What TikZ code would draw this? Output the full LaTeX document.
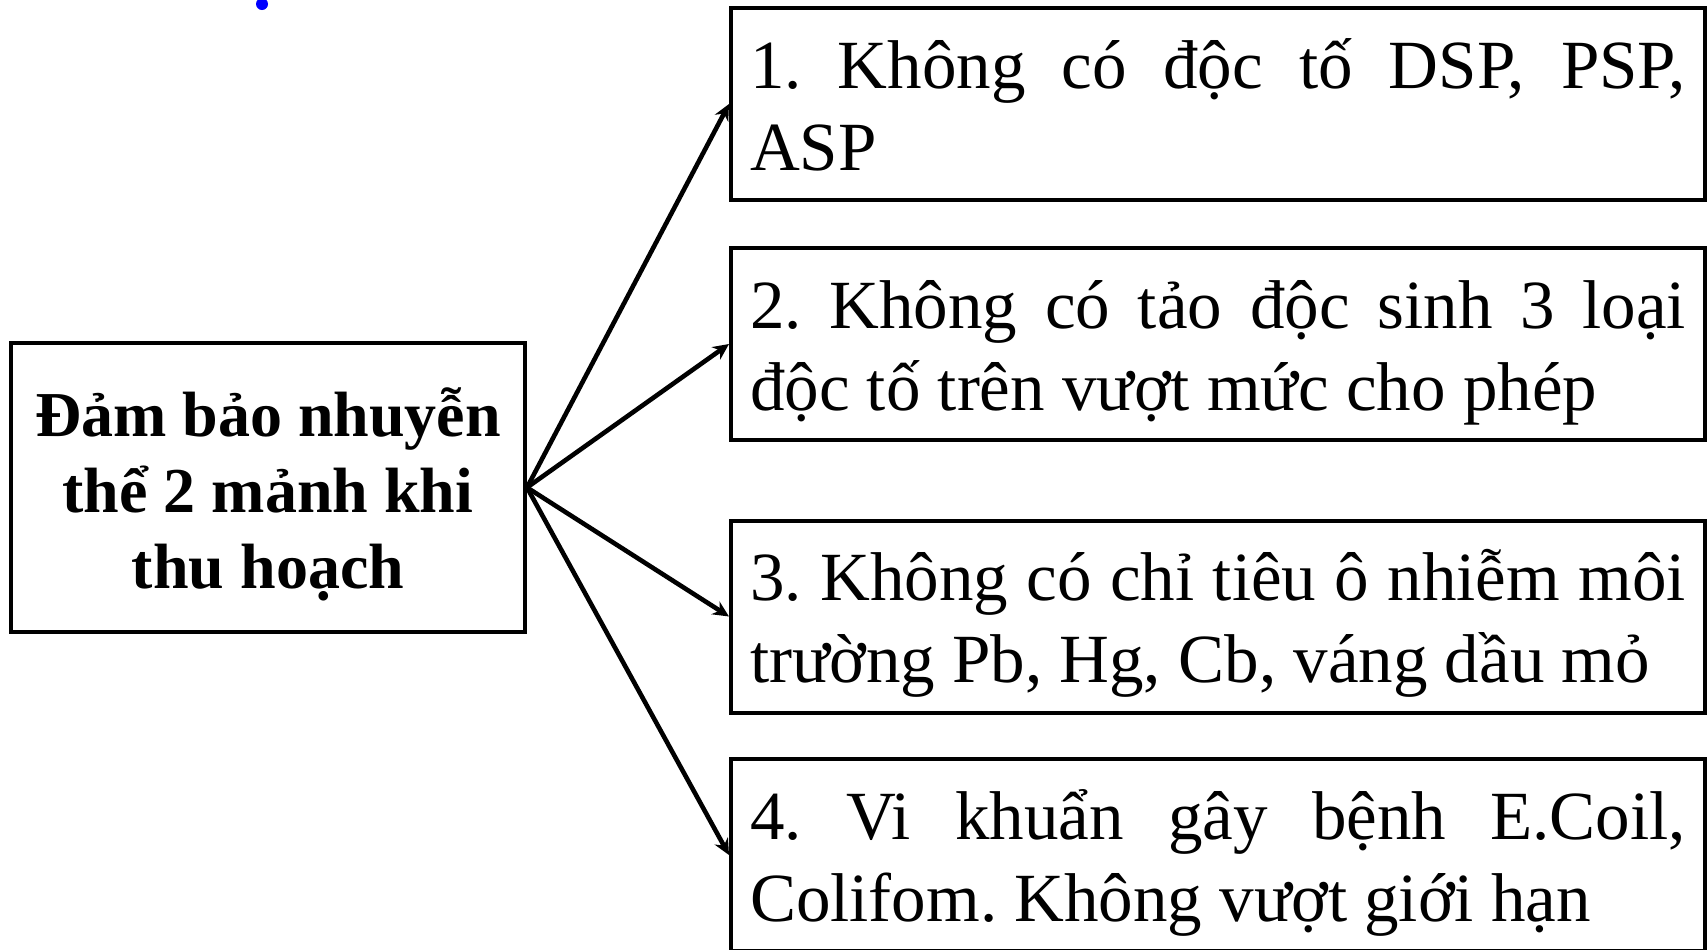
\documentclass[tikz,border=0pt]{standalone}
\usepackage{fontspec}
\setmainfont{Liberation Serif}
\usetikzlibrary{arrows.meta}
\frenchspacing
\newcommand{\tstrut}[1]{\rule{0pt}{#1}}
\newcommand{\bstrut}[1]{\rule[-#1]{0pt}{#1}}

\begin{document}
\begin{tikzpicture}[x=0.5pt, y=-0.5pt,
    goalbox/.style={draw, line width=2pt, minimum width=257pt, minimum height=144.5pt,
      align=center, font=\bfseries\fontsize{32}{38}\selectfont},
    itembox/.style={draw, line width=2pt, minimum height=96pt, text width=468pt,
      inner xsep=9.5pt, align=justify, font=\fontsize{34.5}{41}\selectfont},
    arr/.style={line width=2.3pt, -{Stealth[length=8pt, width=7.5pt]}}]
  \useasboundingbox (0,0) rectangle (1708,949);
  \fill[blue] (262,4) circle (3pt);
  % main box
  \node[goalbox] (goal) at (268,487.5) {\tstrut{36.5pt}Đảm bảo nhuyễn\\thể 2 mảnh khi\\thu hoạch\bstrut{12pt}};
  % criteria
  \node[itembox] (box1) at (1218,104) {\tstrut{35pt}1. Không có độc tố DSP, PSP,\linebreak ASP\bstrut{10pt}};
  \node[itembox] (box2) at (1218,344) {\tstrut{35pt}2. Không có tảo độc sinh 3 loại\linebreak độc tố trên vượt mức cho phép\bstrut{10pt}};
  \node[itembox] (box3) at (1218,616.5) {\tstrut{35pt}3. Không có chỉ tiêu ô nhiễm môi\linebreak trường Pb, Hg, Cb, váng dầu mỏ\bstrut{10pt}};
  \node[itembox] (box4) at (1218,855) {\tstrut{35pt}4. Vi khuẩn gây bệnh E.Coil,\linebreak Colifom. Không vượt giới hạn\bstrut{10pt}};
  \foreach \i in {1,...,4} {
    \draw[arr] (goal.east) -- (box\i.west);
  }
\end{tikzpicture}
\end{document}
